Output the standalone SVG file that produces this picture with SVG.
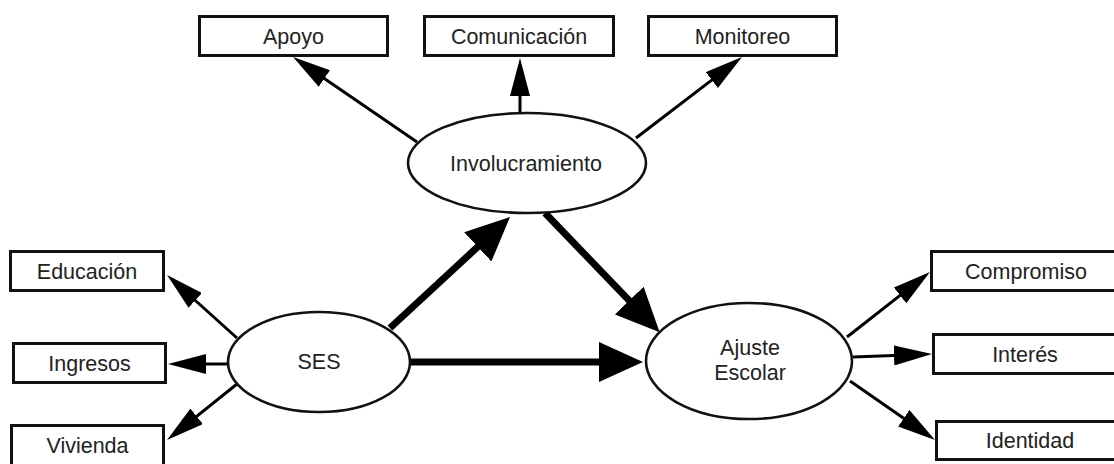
<svg xmlns="http://www.w3.org/2000/svg" width="1114" height="464" viewBox="0 0 1114 464">
<style>
.box{fill:#fff;stroke:#111;stroke-width:3}
.ell{fill:#fff;stroke:#111;stroke-width:2.6}
.t{font-family:"Liberation Sans",Arial,sans-serif;font-size:21.5px;fill:#222;text-anchor:middle}
.thin{stroke:#000;stroke-width:3;fill:none;marker-end:url(#hThin)}
.thick{stroke:#000;stroke-width:7;fill:none;marker-end:url(#hThick)}
</style>
<defs>
<marker id="hThin" markerUnits="userSpaceOnUse" markerWidth="38" markerHeight="20" viewBox="0 0 38 20" refX="20" refY="10" orient="auto">
<path d="M0,0 L38,10 L0,20 z" fill="#000"/>
</marker>
<marker id="hThick" markerUnits="userSpaceOnUse" markerWidth="44" markerHeight="40" viewBox="0 0 44 40" refX="22" refY="20" orient="auto">
<path d="M0,0 L44,20 L0,40 z" fill="#000"/>
</marker>
</defs>
<rect width="1114" height="464" fill="#fff"/>
<g id="connectors">
<line class="thin" x1="417" y1="142" x2="307.9" y2="67.2"/>
<line class="thin" x1="520" y1="113" x2="520" y2="76"/>
<line class="thin" x1="636" y1="138" x2="727.7" y2="67.9"/>
<line class="thin" x1="237" y1="338" x2="180.4" y2="287"/>
<line class="thin" x1="229" y1="364" x2="186" y2="364"/>
<line class="thin" x1="237" y1="384" x2="181.1" y2="428.8"/>
<line class="thin" x1="847" y1="337" x2="915.8" y2="283.1"/>
<line class="thin" x1="853" y1="357" x2="914" y2="354.7"/>
<line class="thin" x1="850" y1="381" x2="920.2" y2="429.7"/>
<line class="thick" x1="390" y1="328" x2="493.9" y2="231.9"/>
<line class="thick" x1="545" y1="213" x2="644.4" y2="316.4"/>
<line class="thick" x1="411" y1="362" x2="621" y2="362"/>
</g>
<g id="n-apoyo"><rect class="box" x="199.5" y="16.5" width="188" height="39"/><text class="t" x="293.5" y="43.5">Apoyo</text></g>
<g id="n-comunicacion"><rect class="box" x="424.5" y="16.5" width="189" height="39"/><text class="t" x="519" y="43.5">Comunicación</text></g>
<g id="n-monitoreo"><rect class="box" x="648.5" y="16.5" width="188" height="39"/><text class="t" x="742.5" y="43.5">Monitoreo</text></g>
<g id="n-educacion"><rect class="box" x="10.5" y="251.5" width="153" height="39"/><text class="t" x="87" y="279">Educación</text></g>
<g id="n-ingresos"><rect class="box" x="13.5" y="343.5" width="152" height="39"/><text class="t" x="89.5" y="371">Ingresos</text></g>
<g id="n-vivienda"><rect class="box" x="11.5" y="425.5" width="152" height="45"/><text class="t" x="87.5" y="452.5">Vivienda</text></g>
<g id="n-compromiso"><rect class="box" x="931.5" y="251.5" width="190" height="39"/><text class="t" x="1026" y="279">Compromiso</text></g>
<g id="n-interes"><rect class="box" x="933.5" y="334.5" width="190" height="39"/><text class="t" x="1025" y="362">Interés</text></g>
<g id="n-identidad"><rect class="box" x="936.5" y="421.5" width="190" height="38"/><text class="t" x="1030" y="448">Identidad</text></g>
<g id="n-involucramiento"><ellipse class="ell" cx="527" cy="163" rx="119" ry="50"/><text class="t" x="526" y="170.5">Involucramiento</text></g>
<g id="n-ses"><ellipse class="ell" cx="319" cy="362" rx="91" ry="50"/><text class="t" x="319" y="369">SES</text></g>
<g id="n-ajuste"><ellipse class="ell" cx="749" cy="361" rx="103" ry="58"/><text class="t" x="750" y="355">Ajuste</text><text class="t" x="750" y="380">Escolar</text></g>
</svg>
